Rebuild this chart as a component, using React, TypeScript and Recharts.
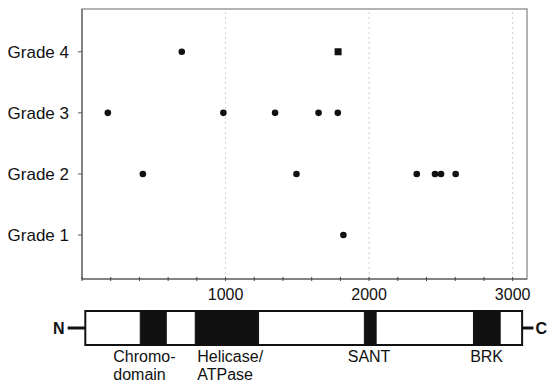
import React from 'react'
import {
  ScatterChart,
  Scatter,
  XAxis,
  YAxis,
  ReferenceLine,
  ReferenceArea,
} from 'recharts'

// mutation positions (amino-acid residue) per tumour grade
const gradeNames = ['Grade 1', 'Grade 2', 'Grade 3', 'Grade 4']
const grade1 = [1821]
const grade2 = [424, 1494, 2332, 2459, 2501, 2603]
const grade3 = [180, 985, 1345, 1648, 1782]
const grade4 = [695]
const grade4Square = [1784]

const xTicks = [0, 200, 400, 600, 800, 1000, 1200, 1400, 1600, 1800, 2000, 2200, 2400, 2600, 2800, 3000]
const xLabels = [1000, 2000, 3000]

// protein schematic
const proteinStart = 23
const proteinEnd = 3066
const domainStart = [406, 789, 1967, 2727]
const domainEnd = [587, 1230, 2049, 2913]
const domainLabels = [['Chromo-', 'domain'], ['Helicase/', 'ATPase'], ['SANT'], ['BRK']]
const labelStart = [218, 803, 1851, 2704]

const FONT = '"Liberation Sans", Arial, Helvetica, sans-serif'
const INK = '#111'
const X_DOMAIN: [number, number] = [0, 3100]

const circles = [
  ...grade1.map((x) => ({ x, y: 1 })),
  ...grade2.map((x) => ({ x, y: 2 })),
  ...grade3.map((x) => ({ x, y: 3 })),
  ...grade4.map((x) => ({ x, y: 4 })),
]
const squares = grade4Square.map((x) => ({ x, y: 4 }))

function XTick(props: any) {
  const { x, y, payload } = props
  const showLabel = xLabels.includes(payload.value)
  return (
    <g>
      <line x1={x} x2={x} y1={y - 2} y2={y + 2} stroke="#444" strokeWidth={1} />
      {showLabel && (
        <text x={x} y={y + 21} textAnchor="middle" fontSize={16} fill={INK} fontFamily={FONT}>
          {payload.value}
        </text>
      )}
    </g>
  )
}

function boxOf(vb: any) {
  if (!vb) return { x: 0, y: 0, width: 0, height: 0 }
  if (vb.x1 !== undefined) {
    return { x: Math.min(vb.x1, vb.x2), y: Math.min(vb.y1, vb.y2), width: Math.abs(vb.x2 - vb.x1), height: Math.abs(vb.y2 - vb.y1) }
  }
  return vb
}

export default function App() {
  return (
    <div style={{ position: 'absolute', left: 0, top: 0, width: 548, height: 384, background: '#fff', fontFamily: FONT }}>
      <div style={{ position: 'absolute', left: 0, top: 0 }}>
        <ScatterChart width={548} height={310} margin={{ top: 9, right: 21, bottom: 0, left: 0 }}>
          <ReferenceArea
            x1={X_DOMAIN[0]}
            x2={X_DOMAIN[1]}
            y1={0.28}
            y2={4.7}
            fill="none"
            stroke="#9a9a9a"
            strokeWidth={1.5}
            fillOpacity={0}
          />
          {xLabels.map((v) => (
            <ReferenceLine key={v} x={v} stroke="#cfcfcf" strokeDasharray="2 3" />
          ))}
          <XAxis
            type="number"
            dataKey="x"
            domain={X_DOMAIN}
            ticks={xTicks}
            interval={0}
            height={31}
            tickSize={0}
            tickMargin={0}
            tick={<XTick />}
            axisLine={{ stroke: '#555', strokeWidth: 1 }}
            allowDataOverflow
          />
          <YAxis
            type="number"
            dataKey="y"
            domain={[0.28, 4.7]}
            ticks={[1, 2, 3, 4]}
            width={82}
            tickSize={4}
            tickMargin={9}
            tickFormatter={(v: number) => gradeNames[v - 1]}
            tick={{ fontSize: 17, fill: INK, fontFamily: FONT }}
            tickLine={{ stroke: '#555' }}
            axisLine={{ stroke: '#555', strokeWidth: 1 }}
            allowDataOverflow
          />
          <Scatter
            data={circles}
            isAnimationActive={false}
            shape={(p: any) => <circle cx={p.cx} cy={p.cy} r={3.3} fill={INK} />}
          />
          <Scatter
            data={squares}
            isAnimationActive={false}
            shape={(p: any) => <rect x={p.cx - 3.5} y={p.cy - 3.5} width={7} height={7} fill={INK} />}
          />
        </ScatterChart>
      </div>

      <div style={{ position: 'absolute', left: 0, top: 300 }}>
        <ScatterChart width={548} height={84} margin={{ top: 11, right: 21, bottom: 39, left: 82 }}>
          <XAxis type="number" dataKey="x" domain={X_DOMAIN} hide allowDataOverflow />
          <YAxis type="number" dataKey="y" domain={[0, 1]} hide allowDataOverflow />
          {/* N-terminal stub */}
          <ReferenceLine
            segment={[{ x: -100, y: 0.5 }, { x: proteinStart, y: 0.5 }]}
            stroke={INK}
            strokeWidth={3}
            ifOverflow="visible"
            label={(lp: any) => {
              const b = boxOf(lp.viewBox)
              return (
                <text x={b.x - 3} y={b.y + 6} textAnchor="end" fontSize={16} fontWeight={700} fill={INK} fontFamily={FONT}>
                  N
                </text>
              )
            }}
          />
          {/* C-terminal stub */}
          <ReferenceLine
            segment={[{ x: proteinEnd, y: 0.5 }, { x: 3145, y: 0.5 }]}
            stroke={INK}
            strokeWidth={3}
            ifOverflow="visible"
            label={(lp: any) => {
              const b = boxOf(lp.viewBox)
              return (
                <text x={b.x + b.width + 2} y={b.y + 6} textAnchor="start" fontSize={16} fontWeight={700} fill={INK} fontFamily={FONT}>
                  C
                </text>
              )
            }}
          />
          <ReferenceArea
            x1={proteinStart}
            x2={proteinEnd}
            y1={0}
            y2={1}
            fill="#fff"
            fillOpacity={1}
            stroke={INK}
            strokeWidth={2}
            ifOverflow="visible"
          />
          {domainStart.map((s, i) => (
            <ReferenceArea
              key={'d' + i}
              x1={s}
              x2={domainEnd[i]}
              y1={0}
              y2={1}
              fill={INK}
              fillOpacity={1}
              stroke={INK}
              strokeWidth={1}
              ifOverflow="visible"
            />
          ))}
          {labelStart.map((s, i) => (
            <ReferenceLine
              key={'l' + i}
              x={s}
              stroke="none"
              ifOverflow="visible"
              label={(lp: any) => {
                const b = boxOf(lp.viewBox)
                return (
                  <text x={b.x} y={b.y + b.height + 17} textAnchor="start" fontSize={16} fill={INK} fontFamily={FONT}>
                    {domainLabels[i].map((t, j) => (
                      <tspan key={j} x={b.x} dy={j === 0 ? 0 : 17.5}>
                        {t}
                      </tspan>
                    ))}
                  </text>
                )
              }}
            />
          ))}
        </ScatterChart>
      </div>
    </div>
  )
}
